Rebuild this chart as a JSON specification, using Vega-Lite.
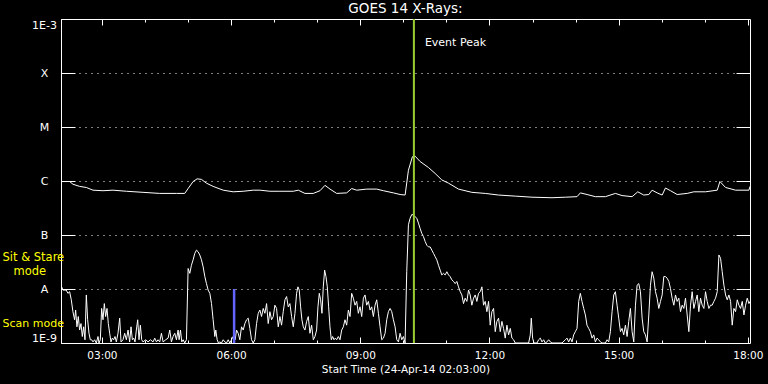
{
  "$schema": "https://vega.github.io/schema/vega-lite/v6.json",
  "width": 689,
  "height": 324,
  "autosize": "none",
  "padding": {"left": 61, "top": 19, "right": 18, "bottom": 41},
  "background": "black",
  "title": {"text": "GOES 14 X-Rays:", "color": "white", "fontSize": 13.5, "fontWeight": "normal", "font": "DejaVu Sans", "anchor": "middle", "offset": 3, "frame": "group"},
  "config": {
    "view": {"stroke": "white", "strokeWidth": 1},
    "axis": {"domain": false, "tickColor": "white", "tickWidth": 1, "labelColor": "white", "titleColor": "white", "labelFont": "DejaVu Sans", "titleFont": "DejaVu Sans", "titleFontWeight": "normal", "grid": false, "labelOverlap": false}
  },
  "datasets": {
    "long": [
      {"hour":2.05,"log_flux":-6.01},{"hour":2.25,"log_flux":-6.01},{"hour":2.328,"log_flux":-6.06},{"hour":2.482,"log_flux":-6.10},{"hour":2.638,"log_flux":-6.12},{"hour":2.793,"log_flux":-6.17},{"hour":3.025,"log_flux":-6.18},{"hour":3.258,"log_flux":-6.17},{"hour":3.568,"log_flux":-6.19},{"hour":3.955,"log_flux":-6.21},{"hour":4.343,"log_flux":-6.23},{"hour":4.731,"log_flux":-6.23},{"hour":4.924,"log_flux":-6.23},{"hour":5.002,"log_flux":-6.14},{"hour":5.118,"log_flux":-6.01},{"hour":5.211,"log_flux":-5.96},{"hour":5.312,"log_flux":-5.97},{"hour":5.428,"log_flux":-6.04},{"hour":5.583,"log_flux":-6.10},{"hour":5.816,"log_flux":-6.17},{"hour":6.048,"log_flux":-6.20},{"hour":6.281,"log_flux":-6.19},{"hour":6.514,"log_flux":-6.17},{"hour":6.669,"log_flux":-6.17},{"hour":6.901,"log_flux":-6.19},{"hour":7.134,"log_flux":-6.19},{"hour":7.444,"log_flux":-6.19},{"hour":7.56,"log_flux":-6.17},{"hour":7.715,"log_flux":-6.23},{"hour":7.909,"log_flux":-6.23},{"hour":8.064,"log_flux":-6.18},{"hour":8.18,"log_flux":-6.08},{"hour":8.297,"log_flux":-6.15},{"hour":8.452,"log_flux":-6.23},{"hour":8.684,"log_flux":-6.22},{"hour":8.80,"log_flux":-6.14},{"hour":8.917,"log_flux":-6.17},{"hour":9.149,"log_flux":-6.15},{"hour":9.382,"log_flux":-6.15},{"hour":9.537,"log_flux":-6.18},{"hour":9.769,"log_flux":-6.22},{"hour":9.924,"log_flux":-6.25},{"hour":10.041,"log_flux":-6.26},{"hour":10.118,"log_flux":-5.80},{"hour":10.211,"log_flux":-5.55},{"hour":10.273,"log_flux":-5.54},{"hour":10.39,"log_flux":-5.64},{"hour":10.583,"log_flux":-5.75},{"hour":10.738,"log_flux":-5.86},{"hour":10.893,"log_flux":-5.98},{"hour":11.049,"log_flux":-6.04},{"hour":11.281,"log_flux":-6.15},{"hour":11.591,"log_flux":-6.21},{"hour":11.901,"log_flux":-6.23},{"hour":12.211,"log_flux":-6.26},{"hour":12.599,"log_flux":-6.28},{"hour":12.986,"log_flux":-6.30},{"hour":13.452,"log_flux":-6.31},{"hour":13.762,"log_flux":-6.30},{"hour":14.033,"log_flux":-6.29},{"hour":14.111,"log_flux":-6.22},{"hour":14.266,"log_flux":-6.25},{"hour":14.459,"log_flux":-6.29},{"hour":14.692,"log_flux":-6.29},{"hour":14.924,"log_flux":-6.23},{"hour":15.08,"log_flux":-6.27},{"hour":15.312,"log_flux":-6.29},{"hour":15.444,"log_flux":-6.20},{"hour":15.583,"log_flux":-6.26},{"hour":15.70,"log_flux":-6.25},{"hour":15.777,"log_flux":-6.17},{"hour":15.893,"log_flux":-6.22},{"hour":16.01,"log_flux":-6.26},{"hour":16.087,"log_flux":-6.13},{"hour":16.204,"log_flux":-6.18},{"hour":16.359,"log_flux":-6.25},{"hour":16.591,"log_flux":-6.23},{"hour":16.746,"log_flux":-6.20},{"hour":17.017,"log_flux":-6.20},{"hour":17.289,"log_flux":-6.17},{"hour":17.351,"log_flux":-6.01},{"hour":17.483,"log_flux":-6.12},{"hour":17.715,"log_flux":-6.17},{"hour":18.025,"log_flux":-6.17},{"hour":18.05,"log_flux":-6.10}
    ],
    "short": [
      {"hour":2.05,"log_flux":-7.93},{"hour":2.095,"log_flux":-8.02},{"hour":2.172,"log_flux":-8.02},{"hour":2.211,"log_flux":-8.08},{"hour":2.25,"log_flux":-8.05},{"hour":2.289,"log_flux":-8.20},{"hour":2.327,"log_flux":-8.42},{"hour":2.366,"log_flux":-8.57},{"hour":2.39,"log_flux":-8.39},{"hour":2.42,"log_flux":-8.70},{"hour":2.452,"log_flux":-8.51},{"hour":2.482,"log_flux":-8.76},{"hour":2.514,"log_flux":-8.64},{"hour":2.545,"log_flux":-8.88},{"hour":2.576,"log_flux":-8.70},{"hour":2.607,"log_flux":-8.94},{"hour":2.638,"log_flux":-8.11},{"hour":2.669,"log_flux":-8.57},{"hour":2.7,"log_flux":-8.82},{"hour":2.731,"log_flux":-8.94},{"hour":2.762,"log_flux":-8.94},{"hour":2.793,"log_flux":-8.98},{"hour":2.831,"log_flux":-8.94},{"hour":2.87,"log_flux":-9.00},{"hour":2.909,"log_flux":-8.88},{"hour":2.932,"log_flux":-9.00},{"hour":2.963,"log_flux":-8.94},{"hour":2.994,"log_flux":-8.36},{"hour":3.025,"log_flux":-8.57},{"hour":3.056,"log_flux":-8.27},{"hour":3.087,"log_flux":-8.51},{"hour":3.118,"log_flux":-8.36},{"hour":3.149,"log_flux":-8.64},{"hour":3.18,"log_flux":-8.82},{"hour":3.211,"log_flux":-8.98},{"hour":3.242,"log_flux":-8.91},{"hour":3.273,"log_flux":-8.94},{"hour":3.304,"log_flux":-8.88},{"hour":3.335,"log_flux":-8.98},{"hour":3.374,"log_flux":-8.82},{"hour":3.413,"log_flux":-8.54},{"hour":3.444,"log_flux":-8.98},{"hour":3.49,"log_flux":-8.94},{"hour":3.529,"log_flux":-8.82},{"hour":3.568,"log_flux":-8.94},{"hour":3.607,"log_flux":-8.76},{"hour":3.645,"log_flux":-8.98},{"hour":3.676,"log_flux":-8.70},{"hour":3.707,"log_flux":-8.94},{"hour":3.738,"log_flux":-8.91},{"hour":3.769,"log_flux":-8.98},{"hour":3.8,"log_flux":-8.76},{"hour":3.831,"log_flux":-8.57},{"hour":3.862,"log_flux":-8.94},{"hour":3.893,"log_flux":-8.67},{"hour":3.924,"log_flux":-8.94},{"hour":3.955,"log_flux":-8.98},{"hour":4.017,"log_flux":-8.94},{"hour":4.072,"log_flux":-8.98},{"hour":4.126,"log_flux":-8.94},{"hour":4.188,"log_flux":-8.98},{"hour":4.227,"log_flux":-8.91},{"hour":4.266,"log_flux":-8.98},{"hour":4.304,"log_flux":-8.94},{"hour":4.343,"log_flux":-8.98},{"hour":4.382,"log_flux":-8.82},{"hour":4.421,"log_flux":-8.98},{"hour":4.482,"log_flux":-8.94},{"hour":4.537,"log_flux":-8.91},{"hour":4.576,"log_flux":-8.76},{"hour":4.614,"log_flux":-8.98},{"hour":4.653,"log_flux":-8.88},{"hour":4.692,"log_flux":-8.82},{"hour":4.731,"log_flux":-8.94},{"hour":4.769,"log_flux":-8.76},{"hour":4.793,"log_flux":-8.94},{"hour":4.824,"log_flux":-8.76},{"hour":4.855,"log_flux":-8.98},{"hour":4.886,"log_flux":-8.94},{"hour":4.924,"log_flux":-9.00},{"hour":4.963,"log_flux":-8.94},
      {"hour":5.002,"log_flux":-7.62},{"hour":5.041,"log_flux":-7.71},{"hour":5.079,"log_flux":-7.56},{"hour":5.118,"log_flux":-7.46},{"hour":5.157,"log_flux":-7.34},{"hour":5.196,"log_flux":-7.28},{"hour":5.234,"log_flux":-7.31},{"hour":5.273,"log_flux":-7.37},{"hour":5.312,"log_flux":-7.46},{"hour":5.351,"log_flux":-7.59},{"hour":5.39,"log_flux":-7.77},{"hour":5.428,"log_flux":-7.90},{"hour":5.467,"log_flux":-8.02},{"hour":5.506,"log_flux":-8.08},{"hour":5.545,"log_flux":-8.27},{"hour":5.583,"log_flux":-8.57},{"hour":5.622,"log_flux":-8.88},{"hour":5.645,"log_flux":-8.76},{"hour":5.676,"log_flux":-8.94},{"hour":5.707,"log_flux":-9.00},{"hour":5.738,"log_flux":-8.98},{"hour":5.777,"log_flux":-9.00},{"hour":5.816,"log_flux":-8.94},{"hour":5.855,"log_flux":-8.98},{"hour":5.893,"log_flux":-9.00},{"hour":5.932,"log_flux":-8.94},{"hour":5.971,"log_flux":-9.00},{"hour":6.01,"log_flux":-8.94},{"hour":6.048,"log_flux":-8.88},{"hour":6.095,"log_flux":-8.94},{"hour":6.126,"log_flux":-8.76},{"hour":6.165,"log_flux":-8.82},{"hour":6.203,"log_flux":-8.94},{"hour":6.242,"log_flux":-8.70},{"hour":6.281,"log_flux":-8.76},{"hour":6.32,"log_flux":-8.64},{"hour":6.359,"log_flux":-8.57},{"hour":6.397,"log_flux":-8.54},{"hour":6.436,"log_flux":-8.73},{"hour":6.475,"log_flux":-8.94},{"hour":6.514,"log_flux":-9.00},{"hour":6.552,"log_flux":-8.94},{"hour":6.591,"log_flux":-8.64},{"hour":6.63,"log_flux":-8.45},{"hour":6.669,"log_flux":-8.39},{"hour":6.707,"log_flux":-8.51},{"hour":6.746,"log_flux":-8.36},{"hour":6.785,"log_flux":-8.45},{"hour":6.824,"log_flux":-8.27},{"hour":6.862,"log_flux":-8.64},{"hour":6.901,"log_flux":-8.42},{"hour":6.94,"log_flux":-8.57},{"hour":6.979,"log_flux":-8.51},{"hour":7.017,"log_flux":-8.30},{"hour":7.056,"log_flux":-8.36},{"hour":7.095,"log_flux":-8.70},{"hour":7.134,"log_flux":-8.51},{"hour":7.172,"log_flux":-8.67},{"hour":7.211,"log_flux":-8.42},{"hour":7.25,"log_flux":-8.20},{"hour":7.289,"log_flux":-8.14},{"hour":7.327,"log_flux":-8.33},{"hour":7.366,"log_flux":-8.27},{"hour":7.405,"log_flux":-8.51},{"hour":7.444,"log_flux":-8.70},{"hour":7.483,"log_flux":-8.45},{"hour":7.521,"log_flux":-8.08},{"hour":7.552,"log_flux":-7.96},{"hour":7.583,"log_flux":-8.02},{"hour":7.614,"log_flux":-8.33},{"hour":7.645,"log_flux":-8.57},{"hour":7.676,"log_flux":-8.70},{"hour":7.715,"log_flux":-8.76},{"hour":7.754,"log_flux":-8.60},{"hour":7.793,"log_flux":-8.51},{"hour":7.831,"log_flux":-8.82},{"hour":7.87,"log_flux":-8.67},{"hour":7.909,"log_flux":-8.94},{"hour":7.948,"log_flux":-8.88},{"hour":7.986,"log_flux":-8.76},{"hour":8.017,"log_flux":-8.33},{"hour":8.048,"log_flux":-8.08},{"hour":8.079,"log_flux":-8.20},{"hour":8.11,"log_flux":-8.45},{"hour":8.141,"log_flux":-7.96},{"hour":8.172,"log_flux":-7.65},{"hour":8.203,"log_flux":-7.77},{"hour":8.234,"log_flux":-7.96},{"hour":8.265,"log_flux":-8.33},{"hour":8.296,"log_flux":-8.70},{"hour":8.327,"log_flux":-8.94},{"hour":8.358,"log_flux":-8.88},{"hour":8.389,"log_flux":-8.94},{"hour":8.42,"log_flux":-8.91},{"hour":8.452,"log_flux":-8.94},{"hour":8.49,"log_flux":-8.88},{"hour":8.529,"log_flux":-8.94},{"hour":8.568,"log_flux":-8.76},{"hour":8.607,"log_flux":-8.70},{"hour":8.645,"log_flux":-8.57},{"hour":8.684,"log_flux":-8.67},{"hour":8.723,"log_flux":-8.39},{"hour":8.762,"log_flux":-8.51},{"hour":8.8,"log_flux":-8.08},{"hour":8.839,"log_flux":-8.17},{"hour":8.878,"log_flux":-8.30},{"hour":8.917,"log_flux":-8.23},{"hour":8.955,"log_flux":-8.45},{"hour":8.994,"log_flux":-8.33},{"hour":9.033,"log_flux":-8.51},{"hour":9.072,"log_flux":-8.17},{"hour":9.11,"log_flux":-8.11},{"hour":9.149,"log_flux":-8.30},{"hour":9.188,"log_flux":-8.23},{"hour":9.227,"log_flux":-8.39},{"hour":9.265,"log_flux":-8.33},{"hour":9.304,"log_flux":-8.51},{"hour":9.343,"log_flux":-8.30},{"hour":9.382,"log_flux":-8.20},{"hour":9.421,"log_flux":-8.45},{"hour":9.459,"log_flux":-8.70},{"hour":9.498,"log_flux":-8.94},{"hour":9.537,"log_flux":-8.91},{"hour":9.576,"log_flux":-8.82},{"hour":9.614,"log_flux":-8.57},{"hour":9.653,"log_flux":-8.42},{"hour":9.692,"log_flux":-8.36},{"hour":9.731,"log_flux":-8.42},{"hour":9.769,"log_flux":-8.57},{"hour":9.808,"log_flux":-8.70},{"hour":9.847,"log_flux":-8.94},{"hour":9.886,"log_flux":-8.98},{"hour":9.924,"log_flux":-8.82},{"hour":9.963,"log_flux":-8.94},{"hour":10.002,"log_flux":-8.88},{"hour":10.04,"log_flux":-9.00},
      {"hour":10.079,"log_flux":-7.68},{"hour":10.118,"log_flux":-6.81},{"hour":10.157,"log_flux":-6.69},{"hour":10.196,"log_flux":-6.62},{"hour":10.234,"log_flux":-6.63},{"hour":10.273,"log_flux":-6.66},{"hour":10.312,"log_flux":-6.69},{"hour":10.351,"log_flux":-6.78},{"hour":10.39,"log_flux":-6.88},{"hour":10.428,"log_flux":-6.97},{"hour":10.467,"log_flux":-7.03},{"hour":10.506,"log_flux":-7.12},{"hour":10.545,"log_flux":-7.19},{"hour":10.583,"log_flux":-7.22},{"hour":10.622,"log_flux":-7.22},{"hour":10.661,"log_flux":-7.28},{"hour":10.7,"log_flux":-7.34},{"hour":10.738,"log_flux":-7.40},{"hour":10.777,"log_flux":-7.46},{"hour":10.816,"log_flux":-7.56},{"hour":10.855,"log_flux":-7.65},{"hour":10.893,"log_flux":-7.74},{"hour":10.932,"log_flux":-7.71},{"hour":10.971,"log_flux":-7.74},{"hour":11.01,"log_flux":-7.68},{"hour":11.049,"log_flux":-7.74},{"hour":11.087,"log_flux":-7.77},{"hour":11.126,"log_flux":-7.83},{"hour":11.165,"log_flux":-7.86},{"hour":11.204,"log_flux":-7.90},{"hour":11.242,"log_flux":-7.86},{"hour":11.281,"log_flux":-7.96},{"hour":11.32,"log_flux":-8.05},{"hour":11.359,"log_flux":-8.11},{"hour":11.397,"log_flux":-8.27},{"hour":11.436,"log_flux":-8.17},{"hour":11.475,"log_flux":-8.23},{"hour":11.514,"log_flux":-8.02},{"hour":11.552,"log_flux":-8.11},{"hour":11.591,"log_flux":-8.30},{"hour":11.63,"log_flux":-8.17},{"hour":11.669,"log_flux":-8.11},{"hour":11.707,"log_flux":-8.23},{"hour":11.746,"log_flux":-8.08},{"hour":11.785,"log_flux":-8.05},{"hour":11.824,"log_flux":-7.96},{"hour":11.862,"log_flux":-8.30},{"hour":11.901,"log_flux":-8.23},{"hour":11.94,"log_flux":-8.42},{"hour":11.979,"log_flux":-8.23},{"hour":12.017,"log_flux":-8.67},{"hour":12.056,"log_flux":-8.42},{"hour":12.095,"log_flux":-8.36},{"hour":12.134,"log_flux":-8.79},{"hour":12.172,"log_flux":-8.60},{"hour":12.211,"log_flux":-8.54},{"hour":12.25,"log_flux":-8.79},{"hour":12.289,"log_flux":-8.60},{"hour":12.327,"log_flux":-8.73},{"hour":12.366,"log_flux":-8.91},{"hour":12.405,"log_flux":-8.67},{"hour":12.444,"log_flux":-8.85},{"hour":12.483,"log_flux":-8.73},{"hour":12.521,"log_flux":-8.91},{"hour":12.56,"log_flux":-8.94},{"hour":12.599,"log_flux":-9.00},{"hour":12.754,"log_flux":-9.00},{"hour":12.909,"log_flux":-9.00},{"hour":12.948,"log_flux":-8.85},{"hour":12.971,"log_flux":-8.54},{"hour":13.002,"log_flux":-8.91},{"hour":13.033,"log_flux":-9.00},{"hour":13.103,"log_flux":-9.00},{"hour":13.141,"log_flux":-8.94},{"hour":13.18,"log_flux":-8.91},{"hour":13.219,"log_flux":-8.98},{"hour":13.258,"log_flux":-8.94},{"hour":13.296,"log_flux":-9.00},{"hour":13.335,"log_flux":-8.98},{"hour":13.374,"log_flux":-8.94},{"hour":13.413,"log_flux":-8.98},{"hour":13.452,"log_flux":-9.00},{"hour":13.684,"log_flux":-9.00},{"hour":13.762,"log_flux":-8.94},{"hour":13.80,"log_flux":-8.91},{"hour":13.839,"log_flux":-8.98},{"hour":13.878,"log_flux":-8.91},{"hour":13.917,"log_flux":-8.98},{"hour":13.955,"log_flux":-8.85},{"hour":13.994,"log_flux":-8.79},{"hour":14.033,"log_flux":-8.73},{"hour":14.072,"log_flux":-8.23},{"hour":14.11,"log_flux":-8.08},{"hour":14.149,"log_flux":-8.23},{"hour":14.188,"log_flux":-8.36},{"hour":14.227,"log_flux":-8.48},{"hour":14.265,"log_flux":-8.67},{"hour":14.304,"log_flux":-8.73},{"hour":14.343,"log_flux":-8.79},{"hour":14.382,"log_flux":-8.91},{"hour":14.421,"log_flux":-8.85},{"hour":14.459,"log_flux":-8.98},{"hour":14.498,"log_flux":-8.91},{"hour":14.537,"log_flux":-8.94},{"hour":14.576,"log_flux":-8.98},{"hour":14.614,"log_flux":-9.00},{"hour":14.692,"log_flux":-9.00},{"hour":14.731,"log_flux":-8.94},{"hour":14.769,"log_flux":-8.98},{"hour":14.808,"log_flux":-8.79},{"hour":14.847,"log_flux":-8.42},{"hour":14.886,"log_flux":-8.11},{"hour":14.924,"log_flux":-8.05},{"hour":14.963,"log_flux":-8.30},{"hour":15.002,"log_flux":-8.54},{"hour":15.041,"log_flux":-8.79},{"hour":15.079,"log_flux":-8.73},{"hour":15.118,"log_flux":-8.85},{"hour":15.157,"log_flux":-8.67},{"hour":15.196,"log_flux":-8.88},{"hour":15.234,"log_flux":-8.60},{"hour":15.273,"log_flux":-8.36},{"hour":15.312,"log_flux":-8.79},{"hour":15.351,"log_flux":-8.98},{"hour":15.39,"log_flux":-8.30},{"hour":15.428,"log_flux":-7.93},{"hour":15.467,"log_flux":-7.90},{"hour":15.506,"log_flux":-8.05},{"hour":15.545,"log_flux":-8.54},{"hour":15.583,"log_flux":-8.79},{"hour":15.622,"log_flux":-8.85},{"hour":15.661,"log_flux":-8.98},{"hour":15.70,"log_flux":-8.48},{"hour":15.738,"log_flux":-7.93},{"hour":15.777,"log_flux":-7.68},{"hour":15.816,"log_flux":-7.80},{"hour":15.855,"log_flux":-8.05},{"hour":15.893,"log_flux":-8.17},{"hour":15.932,"log_flux":-8.36},{"hour":15.971,"log_flux":-8.23},{"hour":16.01,"log_flux":-8.11},{"hour":16.048,"log_flux":-7.77},{"hour":16.087,"log_flux":-7.77},{"hour":16.126,"log_flux":-7.80},{"hour":16.165,"log_flux":-7.86},{"hour":16.203,"log_flux":-7.99},{"hour":16.242,"log_flux":-8.17},{"hour":16.281,"log_flux":-8.30},{"hour":16.32,"log_flux":-8.11},{"hour":16.358,"log_flux":-8.23},{"hour":16.397,"log_flux":-8.17},{"hour":16.436,"log_flux":-8.42},{"hour":16.475,"log_flux":-8.30},{"hour":16.514,"log_flux":-8.36},{"hour":16.552,"log_flux":-8.17},{"hour":16.591,"log_flux":-8.48},{"hour":16.63,"log_flux":-8.79},{"hour":16.669,"log_flux":-8.30},{"hour":16.707,"log_flux":-8.05},{"hour":16.746,"log_flux":-8.36},{"hour":16.785,"log_flux":-8.23},{"hour":16.824,"log_flux":-8.11},{"hour":16.862,"log_flux":-8.42},{"hour":16.901,"log_flux":-8.17},{"hour":16.94,"log_flux":-8.30},{"hour":16.979,"log_flux":-8.36},{"hour":17.017,"log_flux":-8.05},{"hour":17.056,"log_flux":-8.23},{"hour":17.095,"log_flux":-8.36},{"hour":17.134,"log_flux":-8.30},{"hour":17.172,"log_flux":-8.30},{"hour":17.211,"log_flux":-8.23},{"hour":17.25,"log_flux":-8.17},{"hour":17.289,"log_flux":-8.05},{"hour":17.328,"log_flux":-7.37},{"hour":17.366,"log_flux":-7.43},{"hour":17.405,"log_flux":-7.68},{"hour":17.444,"log_flux":-7.93},{"hour":17.483,"log_flux":-8.11},{"hour":17.521,"log_flux":-8.20},{"hour":17.56,"log_flux":-8.11},{"hour":17.599,"log_flux":-8.23},{"hour":17.637,"log_flux":-8.67},{"hour":17.676,"log_flux":-8.36},{"hour":17.715,"log_flux":-8.42},{"hour":17.754,"log_flux":-8.20},{"hour":17.793,"log_flux":-8.30},{"hour":17.831,"log_flux":-8.36},{"hour":17.87,"log_flux":-8.23},{"hour":17.909,"log_flux":-8.48},{"hour":17.948,"log_flux":-8.30},{"hour":17.986,"log_flux":-8.17},{"hour":18.025,"log_flux":-8.27},{"hour":18.05,"log_flux":-8.23}
    ],
    "events": [
      {"event": "Event Peak", "hour": 10.245}
    ],
    "modes": [
      {"event": "mode change", "hour": 6.07}
    ]
  },
  "resolve": {"axis": {"x": "independent", "y": "independent"}},
  "layer": [
    {
      "data": {"name": "long"},
      "mark": {"type": "line", "color": "white", "strokeWidth": 1, "clip": true},
      "encoding": {
        "x": {"field": "hour", "type": "quantitative", "scale": {"domain": [2.05, 18.05], "nice": false, "zero": false},
          "axis": {"orient": "bottom", "values": [3, 6, 9, 12, 15, 18], "tickSize": -6, "labelPadding": 13, "labelFontSize": 10.5, "labelFlush": false, "labelExpr": "(datum.value < 10 ? '0' : '') + datum.value + ':00'", "title": "Start Time (24-Apr-14 02:03:00)", "titleFontSize": 10.5, "titlePadding": 4}},
        "y": {"field": "log_flux", "type": "quantitative", "scale": {"domain": [-9, -3], "nice": false, "zero": false},
          "axis": {"orient": "left", "values": [-9, -8, -7, -6, -5, -4, -3], "tickSize": -14, "labelPadding": 31, "labelAlign": "center", "labelFlush": true, "labelFontSize": 11, "labelExpr": "['1E-9','A','B','C','M','X','1E-3'][round(datum.value) + 9]", "grid": true, "gridColor": "white", "gridOpacity": 1, "gridDash": [1, 5], "gridWidth": 1, "title": null}}
      }
    },
    {
      "data": {"name": "short"},
      "mark": {"type": "line", "color": "white", "strokeWidth": 1, "clip": true},
      "encoding": {
        "x": {"field": "hour", "type": "quantitative", "axis": {"orient": "top", "values": [3, 6, 9, 12, 15, 18], "tickSize": -6, "labels": false, "title": null}},
        "y": {"field": "log_flux", "type": "quantitative", "axis": {"orient": "right", "values": [-8, -7, -6, -5, -4], "tickSize": -14, "labels": false, "grid": false, "title": null}}
      }
    },
    {
      "data": {"name": "events"},
      "mark": {"type": "rule", "color": "#9acd32", "strokeWidth": 2},
      "encoding": {
        "x": {"field": "hour", "type": "quantitative", "axis": {"orient": "bottom", "values": [3, 4, 5, 6, 7, 8, 9, 10, 11, 12, 13, 14, 15, 16, 17, 18], "tickSize": -3, "labels": false, "title": null}},
        "y": {"datum": -3, "type": "quantitative", "axis": {"orient": "left", "values": [-7.42, -8.64], "ticks": false, "labelAlign": "left", "labelPadding": 59, "labelColor": "#ffff00", "labelFontSize": {"condition": {"test": "datum.value < -8", "value": 11}, "value": 11.5}, "labelFlush": false, "labelExpr": "datum.value > -8 ? 'Sit & Stare' : 'Scan mode'", "grid": false, "title": null}},
        "y2": {"datum": -9}
      }
    },
    {
      "data": {"name": "modes"},
      "mark": {"type": "rule", "color": "#6464ff", "strokeWidth": 2.5},
      "encoding": {
        "x": {"field": "hour", "type": "quantitative", "axis": {"orient": "top", "values": [3, 4, 5, 6, 7, 8, 9, 10, 11, 12, 13, 14, 15, 16, 17, 18], "tickSize": -3, "labels": false, "title": null}},
        "y": {"datum": -9, "type": "quantitative", "axis": null},
        "y2": {"datum": -8}
      }
    },
    {
      "data": {"name": "events"},
      "mark": {"type": "text", "color": "white", "align": "left", "baseline": "middle", "dx": 11, "dy": 24, "fontSize": 11, "font": "DejaVu Sans"},
      "encoding": {
        "x": {"field": "hour", "type": "quantitative", "axis": null},
        "y": {"datum": -3, "type": "quantitative", "axis": {"orient": "left", "values": [-7.68], "ticks": false, "labelAlign": "left", "labelPadding": 48, "labelColor": "#ffff00", "labelFontSize": 11.5, "labelFlush": false, "labelExpr": "'mode'", "grid": false, "title": null}},
        "text": {"field": "event"}
      }
    }
  ]
}
